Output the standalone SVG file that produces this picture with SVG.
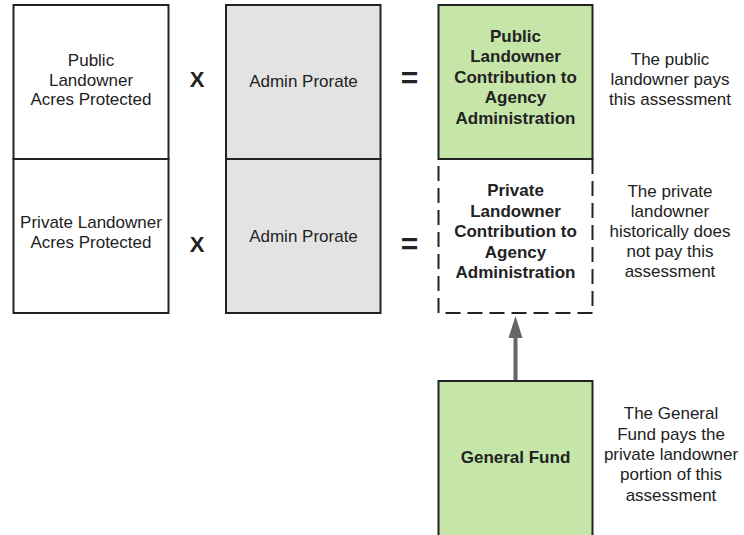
<svg xmlns="http://www.w3.org/2000/svg" width="744" height="535" viewBox="0 0 744 535">
<defs>
<style>
.box{stroke:#222;stroke-width:2}
.white{fill:#fff}
.grey{fill:#e3e3e3}
.green{fill:#c6e6a9}
.dash{fill:#fff;stroke:#222;stroke-width:2;stroke-dasharray:15 7}
text{font-family:"Liberation Sans",Arial,sans-serif;font-size:17px;fill:#222;text-anchor:middle}
.b{font-weight:bold}
.op{font-weight:bold;font-size:22px}
.eq{font-weight:bold;font-size:30px}
</style>
<marker id="ah" markerWidth="14" markerHeight="22" refX="7" refY="21" orient="auto" markerUnits="userSpaceOnUse" viewBox="0 0 14 22">
<path d="M0,21 L7,0 L14,21 Z" fill="#666"/>
</marker>
</defs>
<rect width="744" height="535" fill="#fff"/>
<g id="connectors">
<line x1="515.5" y1="381" x2="515.5" y2="337" stroke="#666" stroke-width="4"/>
<path d="M508.5,338 L515.5,316 L522.5,338 Z" fill="#666"/>
</g>
<g id="public-acres">
<rect class="box white" x="13.5" y="5" width="155" height="154"/>
<text x="91" y="66">Public</text>
<text x="91" y="85.7">Landowner</text>
<text x="91" y="105.3">Acres Protected</text>
</g>
<g id="private-acres">
<rect class="box white" x="13.5" y="159" width="155" height="154"/>
<text x="91" y="227.7">Private Landowner</text>
<text x="91" y="248.3">Acres Protected</text>
</g>
<g id="op-x1"><text class="op" x="197" y="86.7">X</text></g>
<g id="op-x2"><text class="op" x="197" y="251.7">X</text></g>
<g id="admin-prorate-1">
<rect class="box grey" x="226" y="5" width="154.5" height="154"/>
<text x="303.5" y="87.3">Admin Prorate</text>
</g>
<g id="admin-prorate-2">
<rect class="box grey" x="226" y="159" width="154.5" height="154"/>
<text x="303.5" y="242.3">Admin Prorate</text>
</g>
<g id="op-eq1"><text class="eq" x="409.5" y="88">=</text></g>
<g id="op-eq2"><text class="eq" x="409.5" y="254">=</text></g>
<g id="private-contribution">
<rect class="dash" x="438.5" y="159" width="154" height="154"/>
<text class="b" x="515.5" y="196">Private</text>
<text class="b" x="515.5" y="216.5">Landowner</text>
<text class="b" x="515.5" y="237">Contribution to</text>
<text class="b" x="515.5" y="257.5">Agency</text>
<text class="b" x="515.5" y="278">Administration</text>
</g>
<g id="public-contribution">
<rect class="box green" x="438.5" y="5" width="154" height="154"/>
<text class="b" x="515.5" y="41.7">Public</text>
<text class="b" x="515.5" y="62.3">Landowner</text>
<text class="b" x="515.5" y="82.8">Contribution to</text>
<text class="b" x="515.5" y="103.3">Agency</text>
<text class="b" x="515.5" y="123.8">Administration</text>
</g>
<g id="general-fund">
<rect class="box green" x="438.5" y="381" width="154" height="170"/>
<text class="b" x="515.5" y="463.3">General Fund</text>
</g>
<g id="note-public">
<text x="670" y="65">The public</text>
<text x="670" y="85">landowner pays</text>
<text x="670" y="105">this assessment</text>
</g>
<g id="note-private">
<text x="670" y="196.7">The private</text>
<text x="670" y="216.7">landowner</text>
<text x="670" y="236.7">historically does</text>
<text x="670" y="257">not pay this</text>
<text x="670" y="277.3">assessment</text>
</g>
<g id="note-general">
<text x="671" y="419.3">The General</text>
<text x="671" y="439.5">Fund pays the</text>
<text x="671" y="460">private landowner</text>
<text x="671" y="480.3">portion of this</text>
<text x="671" y="500.7">assessment</text>
</g>
</svg>
